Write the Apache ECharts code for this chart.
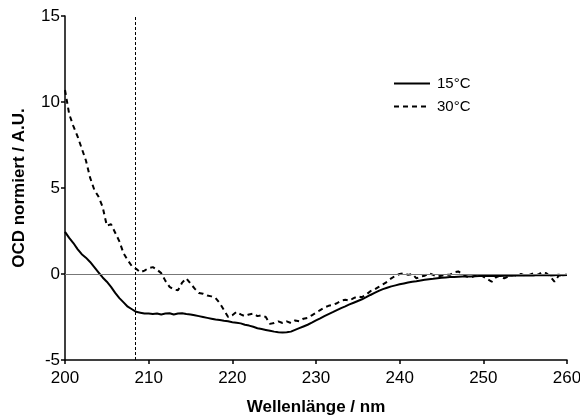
<!DOCTYPE html>
<html>
<head>
<meta charset="utf-8">
<script src="https://cdn.jsdelivr.net/npm/echarts@6/dist/echarts.min.js"></script>
<style>
  html, body { margin: 0; padding: 0; background: #fff; }
  #chart { width: 580px; height: 416px; }
</style>
</head>
<body>
<div id="chart"></div>
<script>
// Wavelength grid (nm), 0.5 nm steps from 200 to 260
const wavelengths = [];
for (let i = 0; i <= 120; i++) wavelengths.push(200 + i * 0.5);

// Normalised OCD signal at 15 °C
const ocd15 = [
  2.45, 2.1, 1.8, 1.45, 1.15, 0.95, 0.7, 0.4, 0.1, -0.2,
  -0.45, -0.75, -1.1, -1.4, -1.65, -1.9, -2.05, -2.2, -2.25, -2.3,
  -2.3, -2.32, -2.3, -2.35, -2.3, -2.28, -2.35, -2.3, -2.28, -2.32,
  -2.35, -2.4, -2.45, -2.5, -2.55, -2.6, -2.65, -2.68, -2.72, -2.75,
  -2.8, -2.83, -2.87, -2.95, -3.0, -3.07, -3.15, -3.2, -3.25, -3.3,
  -3.35, -3.38, -3.4, -3.38, -3.35, -3.25, -3.15, -3.05, -2.95, -2.83,
  -2.7, -2.58, -2.45, -2.33, -2.22, -2.1, -1.98, -1.88, -1.77, -1.67,
  -1.57, -1.47, -1.35, -1.22, -1.1, -0.98, -0.88, -0.8, -0.72, -0.66,
  -0.6, -0.55, -0.5, -0.45, -0.42, -0.38, -0.34, -0.3, -0.28, -0.25,
  -0.22, -0.2, -0.18, -0.17, -0.16, -0.15, -0.14, -0.14, -0.13, -0.12,
  -0.12, -0.11, -0.12, -0.1, -0.11, -0.1, -0.09, -0.1, -0.08, -0.09,
  -0.08, -0.07, -0.09, -0.06, -0.07, -0.06, -0.08, -0.07, -0.05, -0.07,
  -0.06
];

// Normalised OCD signal at 30 °C
const ocd30 = [
  10.7, 9.3, 8.6, 8.0, 7.3, 6.6, 5.6, 4.9, 4.5, 3.9,
  2.8, 2.9, 2.4, 1.9, 1.2, 0.8, 0.45, 0.3, 0.1, 0.2,
  0.35, 0.4, 0.25, 0.05, -0.4, -0.75, -0.9, -0.95, -0.5, -0.25,
  -0.55, -0.85, -1.1, -1.15, -1.25, -1.3, -1.4, -1.7, -2.1, -2.5,
  -2.4, -2.2, -2.35, -2.45, -2.35, -2.3, -2.45, -2.4, -2.5, -2.9,
  -2.85, -2.75, -2.85, -2.75, -2.85, -2.7, -2.75, -2.6, -2.55, -2.4,
  -2.25, -2.1, -1.95, -1.85, -1.8, -1.7, -1.55, -1.5, -1.55, -1.4,
  -1.3, -1.35, -1.2, -1.0, -0.9, -0.75, -0.6, -0.45, -0.25, -0.1,
  0.0, 0.05, -0.05, 0.0, -0.25, -0.15, -0.1, 0.05, -0.05, -0.15,
  -0.1, -0.05, -0.05, 0.1, 0.15, 0.0, -0.15, -0.2, -0.1, -0.05,
  -0.15, -0.3, -0.45, -0.2, -0.1, -0.25, -0.15, -0.05, -0.1, 0.0,
  -0.1, -0.05, 0.05, -0.05, 0.1, 0.05, -0.15, -0.45, -0.1, -0.05,
  -0.05
];

const seriesNames = ['15°C', '30°C'];
const xTicks = [200, 210, 220, 230, 240, 250, 260];
const yTicks = [-5, 0, 5, 10, 15];
const markerWavelength = 208.4;   // dashed reference line
const baselineValue = 0;          // zero line

const font = 'Liberation Sans, Arial, sans-serif';
const pair = (ys) => wavelengths.map((x, i) => [x, ys[i]]);

const chart = echarts.init(document.getElementById('chart'), null, { renderer: 'canvas' });
chart.setOption({
  animation: false,
  backgroundColor: '#fff',
  textStyle: { fontFamily: font },
  grid: { left: 65, right: 13, top: 16, bottom: 56, containLabel: false, outerBoundsMode: 'none' },
  legend: {
    orient: 'vertical',
    left: 388,
    top: 71,
    itemWidth: 36,
    itemHeight: 14,
    itemGap: 8,
    data: seriesNames,
    itemStyle: { opacity: 0 },
    textStyle: { fontFamily: font, fontSize: 15, color: '#000', padding: [0, 0, 0, 2] }
  },
  xAxis: {
    type: 'value',
    min: xTicks[0],
    max: xTicks[xTicks.length - 1],
    interval: 10,
    name: 'Wellenlänge / nm',
    nameLocation: 'middle',
    nameGap: 39,
    nameTextStyle: { fontFamily: font, fontSize: 17, fontWeight: 'bold', color: '#000' },
    axisLine: { onZero: false, lineStyle: { color: '#000', width: 1.5 } },
    axisTick: { length: 4, lineStyle: { color: '#000', width: 1.5 } },
    axisLabel: { fontFamily: font, fontSize: 17, color: '#000', margin: 10 },
    splitLine: { show: false }
  },
  yAxis: {
    type: 'value',
    min: yTicks[0],
    max: yTicks[yTicks.length - 1],
    interval: 5,
    name: 'OCD normiert / A.U.',
    nameLocation: 'middle',
    nameGap: 37,
    nameTextStyle: { fontFamily: font, fontSize: 17, fontWeight: 'bold', color: '#000' },
    axisLine: { show: true, onZero: false, lineStyle: { color: '#000', width: 1.5 } },
    axisTick: { show: true, length: 4, lineStyle: { color: '#000', width: 1.5 } },
    axisLabel: { fontFamily: font, fontSize: 17, color: '#000', margin: 5 },
    splitLine: { show: false }
  },
  series: [
    {
      name: seriesNames[0],
      type: 'line',
      data: pair(ocd15),
      symbol: 'none',
      z: 3,
      lineStyle: { color: '#000', width: 2 },
      itemStyle: { color: '#000' },
      markLine: {
        silent: true,
        symbol: 'none',
        label: { show: false },
        data: [
          { yAxis: baselineValue, lineStyle: { color: '#777', width: 1, type: 'solid' } },
          { xAxis: markerWavelength, lineStyle: { color: '#000', width: 1, type: [3, 2] } }
        ]
      }
    },
    {
      name: seriesNames[1],
      type: 'line',
      data: pair(ocd30),
      symbol: 'none',
      z: 3,
      lineStyle: { color: '#000', width: 2, type: [5, 4] },
      itemStyle: { color: '#000' }
    }
  ]
});
</script>
</body>
</html>
